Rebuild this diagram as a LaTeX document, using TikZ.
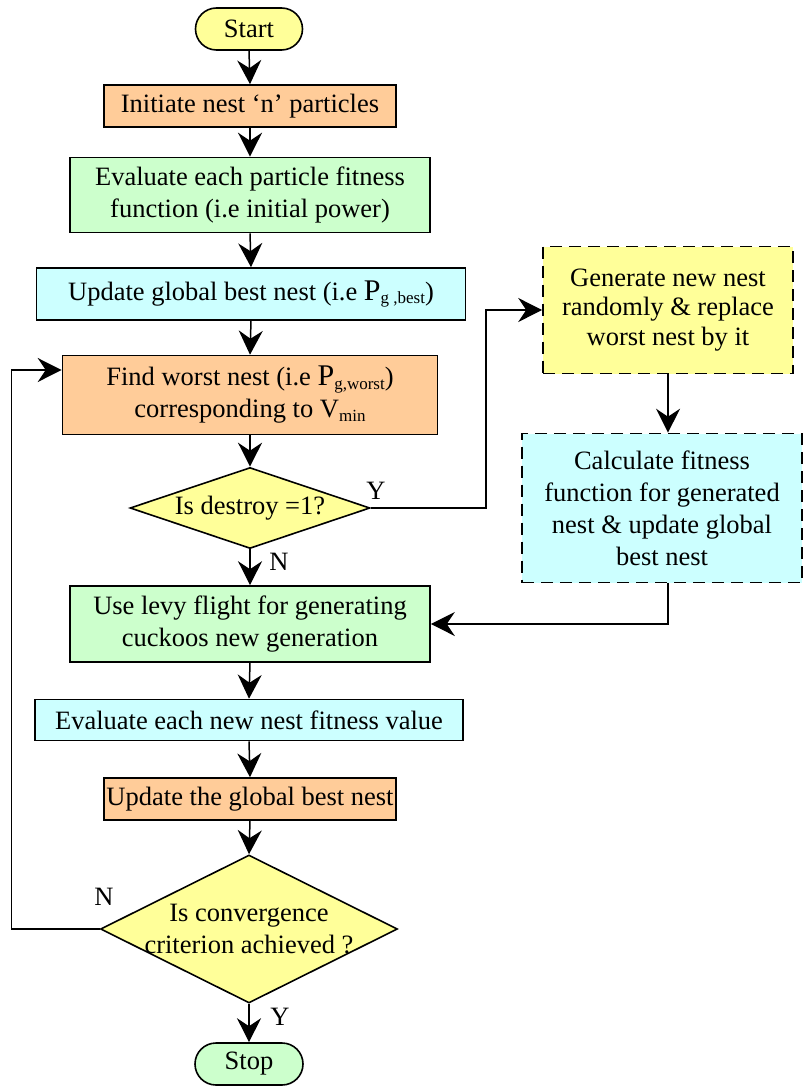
\documentclass[tikz,border=0pt]{standalone}
\usepackage{fontspec}
\setmainfont{Liberation Serif}
\usetikzlibrary{arrows.meta,shapes.geometric,calc}
\definecolor{fillyellow}{HTML}{FFFF99}
\definecolor{fillpeach}{HTML}{FFCC99}
\definecolor{fillgreen}{HTML}{CCFFCC}
\definecolor{fillcyan}{HTML}{CCFFFF}
\newcommand{\subtext}[1]{\raisebox{-0.3ex}{\fontsize{17}{17}\selectfont #1}}
\newcommand{\bigP}{{\fontsize{30}{32}\selectfont P}}
\begin{document}
\begin{tikzpicture}[x=1pt,y=-1pt,
  txt/.style={font=\fontsize{26.5}{32}\selectfont},
  procbox/.style={draw, line width=1.6pt, inner sep=0pt, align=center, txt},
  dashbox/.style={procbox, dash pattern=on 12pt off 7pt},
  term/.style={procbox, rounded corners=21pt, minimum height=42pt},
  decision/.style={draw, diamond, line width=1.6pt, inner sep=0pt, fill=fillyellow},
  flow/.style={line width=1.5pt, -{Stealth[length=24pt, width=24pt, inset=8pt]}},
  line/.style={line width=1.5pt}]
\useasboundingbox (0,0) rectangle (803,1086);

% main column
\node[term, fill=fillyellow, minimum width=107pt] (start) at (249,29) {Start};
\node[procbox, fill=fillpeach, minimum width=292pt, minimum height=42pt] (init) at (250,106) {Initiate nest ‘n’ particles};
\node[procbox, fill=fillgreen, minimum width=360pt, minimum height=75pt] (eval) at (250,195) {Evaluate each particle fitness\\function (i.e initial power)};
\node[procbox, fill=fillcyan, minimum width=429pt, minimum height=52pt] (upd) at (251,294) {Update global best nest (i.e \bigP\subtext{g ,best})};
\node[procbox, fill=fillpeach, minimum width=375pt, minimum height=79pt] (worst) at (250,395) {Find worst nest (i.e \bigP\subtext{g,worst})\\corresponding to V\subtext{min}};
\node[decision, minimum width=240pt, minimum height=81pt, label={[txt]center:Is destroy =1?}] (dest) at (250,508) {};
\node[procbox, fill=fillgreen, minimum width=360pt, minimum height=76pt] (levy) at (250,624) {Use levy flight for generating\\cuckoos new generation};
\node[procbox, fill=fillcyan, minimum width=428pt, minimum height=41pt] (evnew) at (249,720) {Evaluate each new nest fitness value};
\node[procbox, fill=fillpeach, minimum width=292pt, minimum height=42pt] (updg) at (250,799) {Update the global best nest};
\node[decision, minimum width=297pt, minimum height=148pt, label={[txt, align=center]center:Is convergence\\criterion achieved ?}] (conv) at (249,929) {};
\node[term, fill=fillgreen, minimum width=108pt] (stop) at (249,1064) {Stop};

% side branch
\node[dashbox, fill=fillyellow, minimum width=250pt, minimum height=127pt, font=\fontsize{26.5}{29.5}\selectfont] (gen) at (668,310) {Generate new nest\\randomly \& replace\\worst nest by it};
\node[dashbox, fill=fillcyan, minimum width=280pt, minimum height=149pt] (calcfit) at (662,508) {Calculate fitness\\function for generated\\nest \& update global\\best nest};

% connectors
\draw[flow] (start.south) -- (init.north);
\draw[flow] (init.south) -- (eval.north);
\draw[flow] (eval.south) -- (upd.north);
\draw[flow] (upd.south) -- (worst.north);
\draw[flow] (worst.south) -- (dest.north);
\draw[flow] (dest.south) -- (levy.north);
\draw[flow] (levy.south) -- (evnew.north);
\draw[flow] (evnew.south) -- (updg.north);
\draw[flow] (updg.south) -- (conv.north);
\draw[flow] (conv.south) -- (stop.north);

\draw[flow] (dest.east) -- ++(115,0) |- (gen.west);
\draw[flow] (gen.south) -- (gen.south |- calcfit.north);
\draw[flow] (gen.south |- calcfit.south) |- (levy.east);
\draw[flow] (conv.west) -- ++(-88,0) |- ($(worst.west)+(0,-25)$);

% branch labels
\node[txt] (ylab1) at (376,491) {Y};
\node[txt] (nlab1) at (279,562) {N};
\node[txt] (nlab2) at (104,897) {N};
\node[txt] (ylab2) at (280,1017) {Y};
\end{tikzpicture}
\end{document}
